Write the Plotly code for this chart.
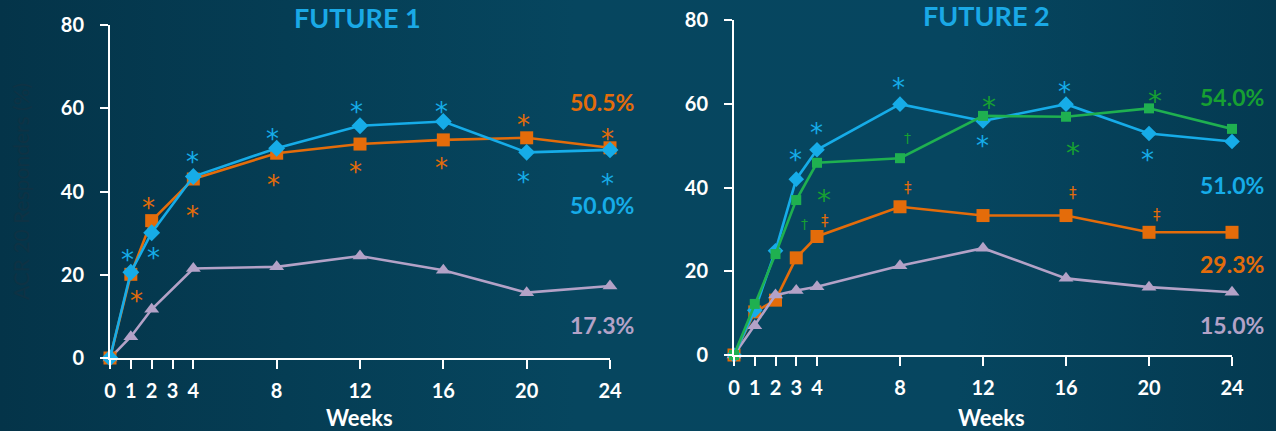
import base64
import plotly.graph_objects as go

# ---------------- data ----------------
x_ticks = [0, 1, 2, 3, 4, 8, 12, 16, 20, 24]
y_ticks = [0, 20, 40, 60, 80]

weeks_f1 = [0, 1, 2, 4, 8, 12, 16, 20, 24]
f1_blue = [0, 20.6, 30.1, 43.6, 50.4, 55.8, 56.8, 49.4, 50.0]
f1_orange = [0, 20.1, 33.0, 43.0, 49.2, 51.4, 52.4, 52.9, 50.5]
f1_lav = [0, 5.1, 11.7, 21.5, 21.9, 24.5, 21.1, 15.7, 17.3]

weeks_f2 = [0, 1, 2, 3, 4, 8, 12, 16, 20, 24]
f2_blue = [0, 10.7, 24.9, 42.0, 49.0, 59.9, 55.9, 59.9, 52.9, 51.0]
f2_green = [0, 12.2, 24.1, 37.0, 45.9, 47.0, 57.1, 56.9, 58.9, 54.0]
f2_orange = [0, 10.3, 13.1, 23.2, 28.3, 35.4, 33.3, 33.3, 29.3, 29.3]
f2_lav = [0, 7.0, 14.3, 15.4, 16.3, 21.3, 25.5, 18.3, 16.2, 15.0]

# significance marks: (week, value)
f1_blue_sig = [(0.83, 24.7), (2.11, 25.3), (3.95, 48.4), (7.81, 53.8), (11.84, 60.4),
               (15.9, 60.4), (19.87, 43.5), (23.9, 43.0)]
f1_orange_sig = [(1.25, 15.0), (1.84, 37.3), (3.97, 35.4), (7.84, 42.8), (11.76, 46.0),
                 (15.92, 46.8), (19.84, 57.2), (23.9, 53.8)]
f2_blue_sig = [(2.94, 47.8), (3.99, 54.1), (7.95, 65.0), (11.97, 51.2), (15.95, 63.9),
               (19.94, 47.8), (24.01, 47.4)]
f2_green_sig = [(4.35, 38.2), (12.3, 60.2), (16.32, 49.4), (20.29, 61.7), (24.35, 56.8)]
f2_green_dag = [(3.42, 31.2), (8.37, 51.9)]
f2_orange_ddag = [(4.39, 32.1), (8.37, 40.0), (16.35, 38.8), (20.37, 33.4), (24.35, 33.7)]

f1_end_labels = [("50.5%", 23.6, 61.6, "orange"), ("50.0%", 23.6, 36.8, "blue"),
                 ("17.3%", 23.6, 7.9, "lav")]
f2_end_labels = [("54.0%", 24.0, 61.5, "greentext"), ("51.0%", 24.0, 40.6, "blue"),
                 ("29.3%", 24.0, 21.7, "orange"), ("15.0%", 24.0, 7.2, "lav")]

# ---------------- style ----------------
C = {
    "blue": "#16ace8",
    "orange": "#e46c0a",
    "lav": "#b3a2c7",
    "green": "#1fb050",
    "greentext": "#17a032",
    "title": "#1aa9e6",
}
FONT = "Lato"
BG = "#064059"

svg = (
    '<svg xmlns="http://www.w3.org/2000/svg" width="1276" height="431">'
    '<defs><linearGradient id="g" x1="0" y1="0" x2="1" y2="0">'
    '<stop offset="0" stop-color="#043449"/>'
    '<stop offset="0.45" stop-color="#06465f"/>'
    '<stop offset="0.75" stop-color="#064660"/>'
    '<stop offset="1" stop-color="#043a51"/>'
    '</linearGradient></defs>'
    '<rect width="1276" height="431" fill="url(#g)"/></svg>'
)
bg_src = "data:image/svg+xml;base64," + base64.b64encode(svg.encode()).decode()

fig = go.Figure()


def line(x, y, color, symbol, size, xa, ya, width=2.6):
    fig.add_trace(go.Scatter(
        x=x, y=y, mode="lines+markers", xaxis=xa, yaxis=ya,
        line=dict(color=color, width=width),
        marker=dict(symbol=symbol, size=size, color=color),
        cliponaxis=False, showlegend=False, hoverinfo="skip"))


line(weeks_f1, f1_lav, C["lav"], "triangle-up", 13, "x", "y")
line(weeks_f1, f1_orange, C["orange"], "square", 13, "x", "y")
line(weeks_f1, f1_blue, C["blue"], "diamond", 13, "x", "y")

line(weeks_f2, f2_orange, C["orange"], "square", 13, "x2", "y2")
line(weeks_f2, f2_lav, C["lav"], "triangle-up", 13, "x2", "y2")
line(weeks_f2, f2_blue, C["blue"], "diamond", 12, "x2", "y2")
line(weeks_f2, f2_green, C["green"], "square", 10, "x2", "y2")

ann = []
STAR_FONT = "DejaVu Sans"


def marks(points, text, color, xa, ya, size, yshift, family=STAR_FONT):
    for wx, wy in points:
        ann.append(dict(x=wx, y=wy, xref=xa, yref=ya, text=text, showarrow=False,
                        font=dict(family=family, size=size, color=color),
                        xanchor="center", yanchor="middle", yshift=yshift))


marks(f1_blue_sig, "*", C["blue"], "x", "y", 26, -5)
marks(f1_orange_sig, "*", C["orange"], "x", "y", 26, -5)
marks(f2_blue_sig, "*", C["blue"], "x2", "y2", 26, -5)
marks(f2_green_sig, "*", C["greentext"], "x2", "y2", 28, -5)
marks(f2_green_dag, "†", C["greentext"], "x2", "y2", 14, 0)
marks(f2_orange_ddag, "‡", C["orange"], "x2", "y2", 15, 0)

for labels, xa, ya in [(f1_end_labels, "x", "y"), (f2_end_labels, "x2", "y2")]:
    for txt, wx, wy, col in labels:
        ann.append(dict(x=wx, y=wy, xref=xa, yref=ya, text=txt, showarrow=False,
                        font=dict(family=FONT, size=23, color=C[col], weight="bold"),
                        xanchor="center", yanchor="middle"))

ann += [
    dict(x=357 / 1276, y=1 - 17.5 / 431, xref="paper", yref="paper", text="FUTURE 1",
         showarrow=False, xanchor="center", yanchor="middle",
         font=dict(family=FONT, size=27, color=C["title"], weight="bold")),
    dict(x=986 / 1276, y=1 - 15.5 / 431, xref="paper", yref="paper", text="FUTURE 2",
         showarrow=False, xanchor="center", yanchor="middle",
         font=dict(family=FONT, size=27, color=C["title"], weight="bold")),
    dict(x=360 / 1276, y=0.0302, xref="paper", yref="paper", text="Weeks",
         showarrow=False, xanchor="center", yanchor="middle",
         font=dict(family=FONT, size=22, color="white", weight="bold")),
    dict(x=991 / 1276, y=0.0302, xref="paper", yref="paper", text="Weeks",
         showarrow=False, xanchor="center", yanchor="middle",
         font=dict(family=FONT, size=22, color="white", weight="bold")),
    dict(x=20 / 1276, y=0.5545, xref="paper", yref="paper", text="ACR 20 Responders (%)",
         showarrow=False, xanchor="center", yanchor="middle", textangle=-90,
         font=dict(family=FONT, size=21, color="#0e3244")),
]

tickfont = dict(family=FONT, size=20, color="white", weight="bold")
xcommon = dict(range=[0, 24], tickvals=x_ticks, ticktext=[str(v) for v in x_ticks],
               showgrid=False, zeroline=False, showline=True, linecolor="white",
               linewidth=2, ticks="outside", ticklen=9, tickwidth=2, tickcolor="white",
               tickfont=tickfont, ticklabelstandoff=5, automargin=False)
ycommon = dict(range=[0, 80], tickvals=y_ticks, showgrid=False, zeroline=False,
               showline=True, linecolor="white", linewidth=2, ticks="outside",
               ticklen=8, tickwidth=2, tickcolor="white", tickfont=tickfont,
               ticklabelstandoff=12, automargin=False)

fig.update_layout(
    width=1276, height=431,
    margin=dict(l=0, r=0, t=0, b=0, autoexpand=False),
    paper_bgcolor=BG, plot_bgcolor="rgba(0,0,0,0)",
    xaxis=dict(domain=[110 / 1276, 610 / 1276], anchor="y", **xcommon),
    yaxis=dict(domain=[73 / 431, 406 / 431], anchor="x", **ycommon),
    xaxis2=dict(domain=[734 / 1276, 1232 / 1276], anchor="y2", **xcommon),
    yaxis2=dict(domain=[76 / 431, 411 / 431], anchor="x2", **ycommon),
    annotations=ann,
    images=[dict(source=bg_src, xref="paper", yref="paper", x=0, y=1, sizex=1, sizey=1,
                 sizing="stretch", layer="below", xanchor="left", yanchor="top")],
    showlegend=False,
)

fig.write_html("out.html")
